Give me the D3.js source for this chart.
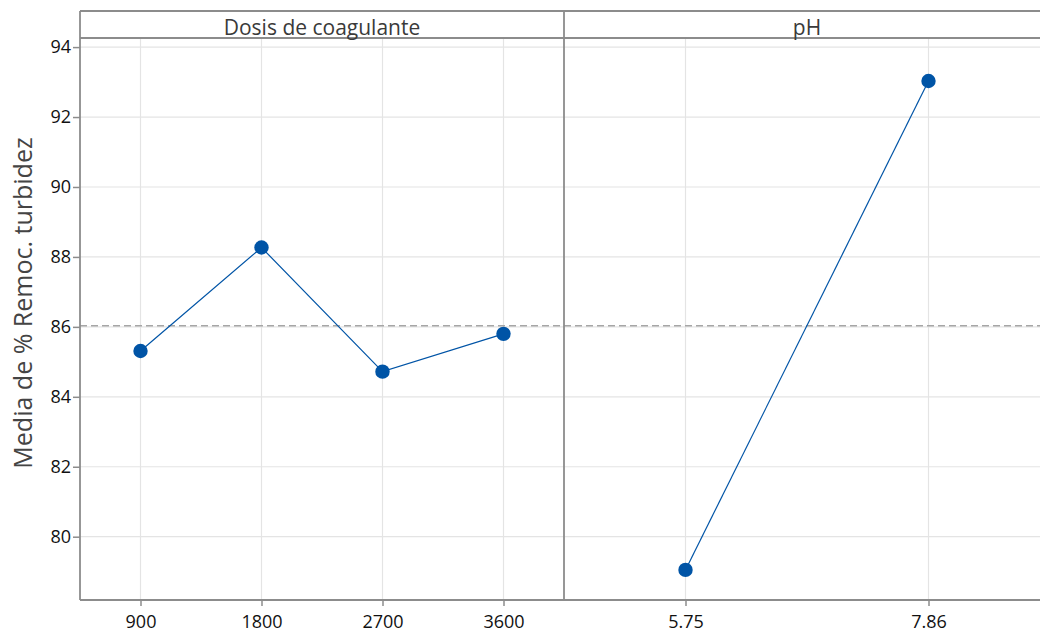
<!DOCTYPE html>
<html><head><meta charset="utf-8">
<script src="https://cdn.jsdelivr.net/npm/d3@7"></script>
<style>body{margin:0;background:#fff;} text{font-family:"Open Sans","Noto Sans",sans-serif;}</style>
</head><body><svg id="c" width="1040" height="632"></svg>
<script>
const dosisCats = ["900","1800","2700","3600"];
const dosisVals = [85.31, 88.27, 84.72, 85.80];
const phCats = ["5.75","7.86"];
const phVals = [79.05, 93.03];
const yTicks = [80,82,84,86,88,90,92,94];
const grandMean = 86.03;
const panelTitles = ["Dosis de coagulante","pH"];
const yLabel = "Media de % Remoc. turbidez";

(function(){
const svg = d3.select("#c");
const pL = 80, pT = 11, stripB = 38, pB = 600, pM = 564, pR = 1050;
const y = d3.scaleLinear().domain([78.19, 94.26]).range([pB, stripB]);
const x1 = d3.scalePoint().domain(dosisCats).range([pL, pM]).padding(0.5);
const x2 = d3.scalePoint().domain(phCats).range([pM, pR]).padding(0.5);
const grid = "#e4e4e4", frame = "#8c8c8c", blue = "#0054a6";

// grid
svg.append("g").selectAll("line").data(yTicks).join("line")
  .attr("x1", pL).attr("x2", pR).attr("y1", d=>y(d)).attr("y2", d=>y(d))
  .attr("stroke", grid).attr("stroke-width", 1.2);
[[x1,dosisCats],[x2,phCats]].forEach(([sc,cats])=>{
  svg.append("g").selectAll("line").data(cats).join("line")
    .attr("x1", d=>sc(d)).attr("x2", d=>sc(d)).attr("y1", stripB).attr("y2", pB)
    .attr("stroke", grid).attr("stroke-width", 1.2);
});

// mean line
svg.append("line").attr("x1", pL).attr("x2", pR).attr("y1", y(grandMean)).attr("y2", y(grandMean))
  .attr("stroke", "#a6a6a6").attr("stroke-width", 1.5).attr("stroke-dasharray", "7,4");

// axes
const ya = svg.append("g").attr("transform", `translate(${pL},0)`)
  .call(d3.axisLeft(y).tickValues(yTicks).tickSize(7).tickPadding(2));
const xa1 = svg.append("g").attr("transform", `translate(0,${pB})`)
  .call(d3.axisBottom(x1).tickSize(6).tickPadding(9));
const xa2 = svg.append("g").attr("transform", `translate(0,${pB})`)
  .call(d3.axisBottom(x2).tickSize(6).tickPadding(9));
[ya,xa1,xa2].forEach(g=>{
  g.select(".domain").remove();
  g.selectAll(".tick line").attr("stroke", frame).attr("stroke-width", 1.5);
  g.selectAll(".tick text").attr("fill", "#111").style("font-size", "18px").style("font-weight", "500");
});

// frame
const fr = svg.append("g").attr("stroke", frame).attr("stroke-width", 1.8).attr("fill", "none");
fr.append("line").attr("x1", pL).attr("x2", pR).attr("y1", pT).attr("y2", pT);
fr.append("line").attr("x1", pL).attr("x2", pR).attr("y1", stripB).attr("y2", stripB);
fr.append("line").attr("x1", pL).attr("x2", pR).attr("y1", pB).attr("y2", pB);
fr.append("line").attr("x1", pL).attr("x2", pL).attr("y1", pT).attr("y2", pB);
fr.append("line").attr("x1", pM).attr("x2", pM).attr("y1", pT).attr("y2", pB);

// strip titles
svg.append("text").attr("x", (pL+pM)/2).attr("y", 35).attr("text-anchor","middle")
  .attr("fill","#3a3a3a").style("font-size","21px").text(panelTitles[0]);
svg.append("text").attr("x", (pM+pR)/2).attr("y", 35).attr("text-anchor","middle")
  .attr("fill","#3a3a3a").style("font-size","21px").text(panelTitles[1]);

// y label
svg.append("text").attr("transform", `translate(32,303) rotate(-90)`)
  .attr("text-anchor","middle").attr("fill","#444").style("font-size","25px").text(yLabel);

// series
function series(sc, cats, vals){
  const pts = cats.map((c,i)=>[sc(c), y(vals[i])]);
  svg.append("path").attr("d", d3.line()(pts)).attr("fill","none").attr("stroke", blue).attr("stroke-width", 1.2);
  svg.append("g").selectAll("circle").data(pts).join("circle")
    .attr("cx", d=>d[0]).attr("cy", d=>d[1]).attr("r", 7.2).attr("fill", blue);
}
series(x1, dosisCats, dosisVals);
series(x2, phCats, phVals);
})();
</script></body></html>
